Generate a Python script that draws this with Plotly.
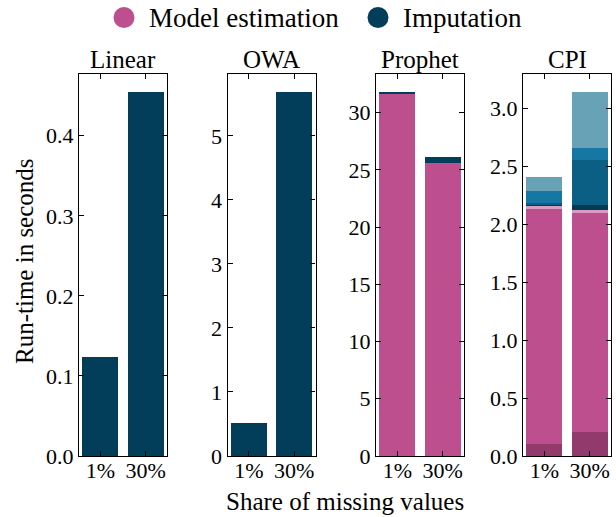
import plotly.graph_objects as go

# ---------------- data ----------------
categories = ["1%", "30%"]
x_pos = [0, 1]

linear_imputation = [0.124, 0.455]
owa_imputation = [0.52, 5.69]
prophet_model = [31.69, 25.60]
prophet_imputation = [0.15, 0.50]

# CPI stacked components (bottom -> top)
cpi_model_part1 = [0.10, 0.21]
cpi_model_part2 = [2.034, 1.895]
cpi_model_part3 = [0.026, 0.017]
cpi_imp_part1 = [0.005, 0.038]
cpi_imp_part2 = [0.020, 0.388]
cpi_imp_part3 = [0.098, 0.104]
cpi_imp_part4 = [0.121, 0.489]

panel_titles = ["Linear", "OWA", "Prophet", "CPI"]
y_ticks = [
    [0.0, 0.1, 0.2, 0.3, 0.4],
    [0, 1, 2, 3, 4, 5],
    [0, 5, 10, 15, 20, 25, 30],
    [0.0, 0.5, 1.0, 1.5, 2.0, 2.5, 3.0],
]
y_ticktext = [
    ["0.0", "0.1", "0.2", "0.3", "0.4"],
    ["0", "1", "2", "3", "4", "5"],
    ["0", "5", "10", "15", "20", "25", "30"],
    ["0.0", "0.5", "1.0", "1.5", "2.0", "2.5", "3.0"],
]

# ---------------- style ----------------
W, H = 616, 517
FONT = "Liberation Serif"
MAGENTA = "#BD4F8E"
NAVY = "#023E5A"
cpi_colors = ["#923A6C", MAGENTA, "#D99BC1", "#033A55", "#0B5E84", "#1777A4", "#67A2B6"]

x_left_px = [79, 227.5, 376, 523]
panel_w_px = 88
y_top_px, y_bot_px = 73.5, 456

fig = go.Figure()

def add_bar(idx, y, color):
    ax = "" if idx == 0 else str(idx + 1)
    fig.add_trace(go.Bar(
        x=x_pos, y=y, marker=dict(color=color, line=dict(width=0)),
        width=0.8, xaxis="x" + ax, yaxis="y" + ax, showlegend=False,
        hoverinfo="y",
    ))

add_bar(0, linear_imputation, NAVY)
add_bar(1, owa_imputation, NAVY)
add_bar(2, prophet_model, MAGENTA)
add_bar(2, prophet_imputation, NAVY)
for vals, col in zip(
    [cpi_model_part1, cpi_model_part2, cpi_model_part3,
     cpi_imp_part1, cpi_imp_part2, cpi_imp_part3, cpi_imp_part4],
    cpi_colors,
):
    add_bar(3, vals, col)

totals = [
    max(linear_imputation),
    max(owa_imputation),
    max(a + b for a, b in zip(prophet_model, prophet_imputation)),
    max(sum(v) for v in zip(cpi_model_part1, cpi_model_part2, cpi_model_part3,
                            cpi_imp_part1, cpi_imp_part2, cpi_imp_part3, cpi_imp_part4)),
]

layout = dict(
    width=W, height=H,
    margin=dict(l=0, r=0, t=0, b=0, autoexpand=False),
    paper_bgcolor="white", plot_bgcolor="white",
    barmode="stack",
    font=dict(family=FONT, size=22, color="black"),
    showlegend=False,
)

ydom = [1 - y_bot_px / H, 1 - y_top_px / H]
annotations = []
for i in range(4):
    ax = "" if i == 0 else str(i + 1)
    x0 = x_left_px[i] / W
    x1 = (x_left_px[i] + panel_w_px) / W
    layout["xaxis" + ax] = dict(
        domain=[x0, x1], anchor="y" + ax, range=[-0.47, 1.47],
        tickvals=x_pos, ticktext=categories, ticks="inside", ticklen=5,
        tickcolor="black", showline=True, linecolor="black", linewidth=1.2,
        mirror="ticks", showgrid=False, zeroline=False, fixedrange=True,
        automargin=False, ticklabelstandoff=-6,
        tickfont=dict(size=22, family=FONT),
    )
    layout["yaxis" + ax] = dict(
        domain=ydom, anchor="x" + ax, range=[0, totals[i] * 1.05],
        tickvals=y_ticks[i], ticktext=y_ticktext[i], ticks="inside", ticklen=5,
        tickcolor="black", showline=True, linecolor="black", linewidth=1.2,
        mirror="ticks", showgrid=False, zeroline=False, fixedrange=True,
        automargin=False, tickfont=dict(size=22, family=FONT),
    )
    annotations.append(dict(
        text=panel_titles[i], xref="paper", yref="paper",
        x=(x0 + x1) / 2, y=1 - 59 / H, xanchor="center", yanchor="middle",
        showarrow=False, font=dict(size=25, family=FONT),
    ))

annotations.append(dict(
    text="Run-time in seconds", xref="paper", yref="paper",
    x=24 / W, y=1 - 261 / H, textangle=-90, xanchor="center", yanchor="middle",
    showarrow=False, font=dict(size=25, family=FONT),
))
annotations.append(dict(
    text="Share of missing values", xref="paper", yref="paper",
    x=345 / W, y=1 - 501 / H, xanchor="center", yanchor="middle",
    showarrow=False, font=dict(size=25, family=FONT),
))

# legend (manual)
legend_items = [("Model estimation", MAGENTA, 124), ("Imputation", NAVY, 378)]
shapes = []
for label, col, cx in legend_items:
    shapes.append(dict(
        type="circle", xref="paper", yref="paper",
        xsizemode="pixel", ysizemode="pixel",
        xanchor=cx / W, yanchor=1 - 17.5 / H,
        x0=-10.5, x1=10.5, y0=-10.5, y1=10.5,
        fillcolor=col, line=dict(width=0),
    ))
    annotations.append(dict(
        text=label, xref="paper", yref="paper",
        x=(cx + 23) / W, y=1 - 17.5 / H, xanchor="left", yanchor="middle",
        showarrow=False, font=dict(size=27, family=FONT),
    ))

layout["annotations"] = annotations
layout["shapes"] = shapes
fig.update_layout(**layout)

fig.write_html(
    "out.html",
    config={"responsive": False, "displayModeBar": False},
    post_script="document.body.style.margin='0px';",
)
